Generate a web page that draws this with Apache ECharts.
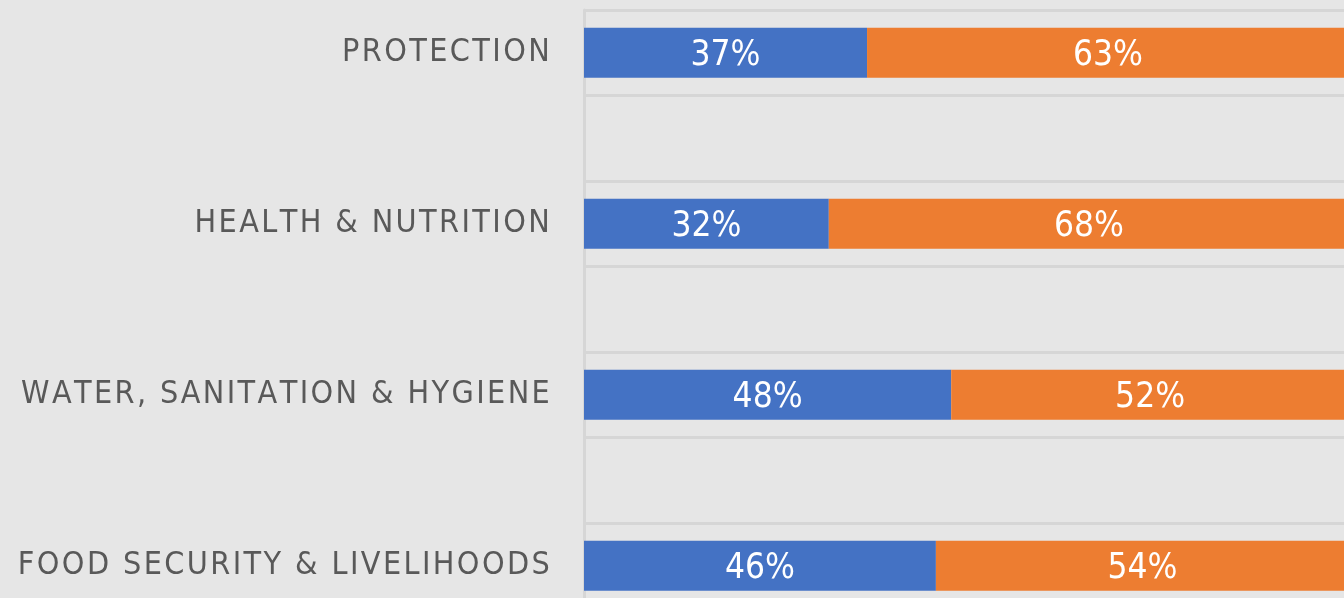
<!DOCTYPE html>
<html>
<head>
<meta charset="utf-8">
<script src="https://cdn.jsdelivr.net/npm/echarts@6/dist/echarts.min.js"></script>
<style>
  html, body { margin: 0; padding: 0; background: #e6e6e6; }
  #chart { width: 1344px; height: 598px; }
</style>
</head>
<body>
<div id="chart"></div>
<script>
// sectors, top to bottom
var categories = ['PROTECTION', 'HEALTH & NUTRITION', 'WATER, SANITATION & HYGIENE', 'FOOD SECURITY & LIVELIHOODS'];
var blueShare = [37, 32, 48, 46];
var orangeShare = [63, 68, 52, 54];

var fontName = '"Liberation Sans Narrow", "DejaVu Sans Condensed", "Liberation Sans", sans-serif';

// every sector sits in a slot with an empty slot after it
var slots = [], blueData = [], orangeData = [];
categories.forEach(function (c, i) {
    if (i > 0) {
        slots.push('');
        blueData.push('-');
        orangeData.push('-');
    }
    slots.push(c);
    blueData.push(blueShare[i]);
    orangeData.push(orangeShare[i]);
});

// letter spaced label through rich text
var spaced = function (v) {
    if (!v) return '';
    return v.split('').map(function (ch) { return '{c|' + ch + '}'; }).join('');
};

var chart = echarts.init(document.getElementById('chart'));

var barLabel = {
    show: true,
    position: 'inside',
    offset: [0, 3],
    color: '#ffffff',
    fontFamily: fontName,
    fontSize: 35,
    formatter: '{c}%'
};

chart.setOption({
    backgroundColor: '#e6e6e6',
    animation: false,
    grid: {
        left: 584,
        top: 10,
        width: 765,
        height: 598.5,
        containLabel: false,
        outerBoundsMode: 'none'
    },
    xAxis: {
        type: 'value',
        min: 0,
        max: 100,
        show: false
    },
    yAxis: {
        type: 'category',
        inverse: true,
        data: slots,
        axisLine: { show: true, lineStyle: { color: '#d6d6d6', width: 3 } },
        axisTick: { show: false },
        splitLine: { show: true, lineStyle: { color: '#d6d6d6', width: 3 } },
        axisLabel: {
            margin: 33,
            interval: 0,
            formatter: spaced,
            rich: {
                c: {
                    color: '#595959',
                    fontFamily: fontName,
                    fontSize: 32,
                    padding: [0, 1.2, 0, 1.2]
                }
            }
        }
    },
    series: [
        {
            name: 'share 1',
            type: 'bar',
            stack: 'all',
            barWidth: 50,
            itemStyle: { color: '#4472c4' },
            label: barLabel,
            data: blueData
        },
        {
            name: 'share 2',
            type: 'bar',
            stack: 'all',
            barWidth: 50,
            itemStyle: { color: '#ed7d31' },
            label: barLabel,
            data: orangeData
        }
    ]
});
</script>
</body>
</html>
